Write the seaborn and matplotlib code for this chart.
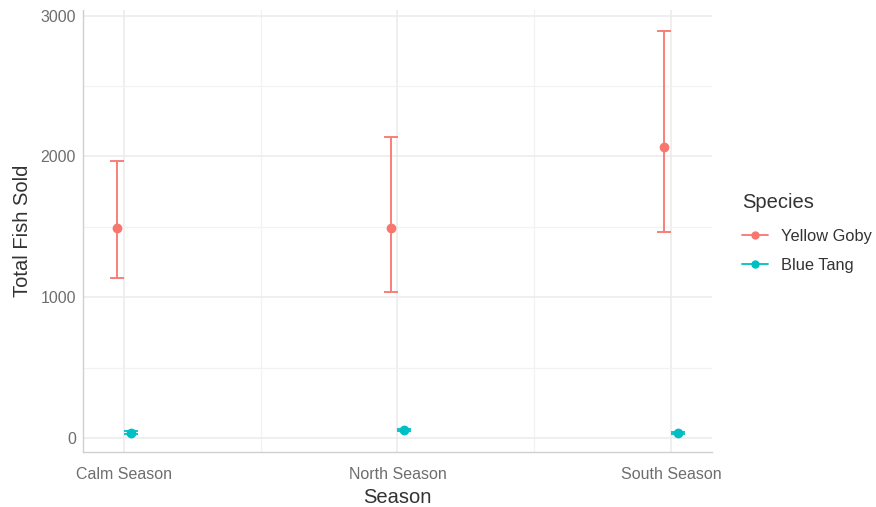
import matplotlib
matplotlib.use("Agg")
import matplotlib.pyplot as plt
from matplotlib.lines import Line2D
from matplotlib.ticker import MultipleLocator
import seaborn as sns
import pandas as pd
import numpy as np

seasons = ["Calm Season", "North Season", "South Season"]
species = ["Yellow Goby", "Blue Tang"]
goby_mean = [1495, 1495, 2065]
goby_low = [1135, 1035, 1460]
goby_high = [1965, 2135, 2890]
tang_mean = [38, 55, 35]
tang_low = [30, 47, 27]
tang_high = [46, 63, 43]

colors = {"Yellow Goby": "#F8766D", "Blue Tang": "#00BFC4"}

df = pd.DataFrame({
    "Season": seasons * 2,
    "Species": [species[0]] * 3 + [species[1]] * 3,
    "Total": goby_mean + tang_mean,
    "low": goby_low + tang_low,
    "high": goby_high + tang_high,
})

sns.set_theme(style="white")
plt.rcParams["font.family"] = ["Liberation Sans", "DejaVu Sans"]

fig = plt.figure(figsize=(8.76, 5.07), dpi=100)
ax = fig.add_axes([0.0947, 0.1085, 0.7181, 0.8715])

dodge = 0.05
sns.pointplot(data=df, x="Season", y="Total", hue="Species", order=seasons,
              hue_order=species, palette=colors, dodge=dodge, errorbar=None,
              linestyle="none", markers="o", markersize=5, ax=ax, legend=False,
              zorder=4)

offsets = {"Yellow Goby": -dodge / 2, "Blue Tang": dodge / 2}
for sp in species:
    sub = df[df["Species"] == sp]
    xs = np.array([seasons.index(s) for s in sub["Season"]]) + offsets[sp]
    yerr = [sub["Total"] - sub["low"], sub["high"] - sub["Total"]]
    ax.errorbar(xs, sub["Total"], yerr=yerr, fmt="none", ecolor=colors[sp],
                elinewidth=1.3, capsize=4.8, capthick=1.3, zorder=3)

ax.set_xlim(-0.15, 2.15)
ax.set_ylim(-100, 3040)
ax.yaxis.set_major_locator(MultipleLocator(1000))
ax.yaxis.set_minor_locator(MultipleLocator(500))
ax.set_xticks([0.5, 1.5], minor=True)
ax.grid(True, which="major", color="#EBEBEB", linewidth=1.1, zorder=0)
ax.grid(True, which="minor", color="#F2F2F2", linewidth=0.9, zorder=0)
ax.set_axisbelow(True)

for side in ["top", "right"]:
    ax.spines[side].set_visible(False)
for side in ["left", "bottom"]:
    ax.spines[side].set_color("#D0D0D0")
    ax.spines[side].set_linewidth(1.0)

ax.tick_params(axis="both", which="both", length=0, labelsize=11.5,
               labelcolor="#6E6E6E")
ax.tick_params(axis="x", pad=11)
ax.tick_params(axis="y", pad=5)
ax.set_xlabel("Season", fontsize=14.5, color="#333333", labelpad=4)
ax.set_ylabel("Total Fish Sold", fontsize=14.5, color="#333333", labelpad=6)

handles = [Line2D([0], [0], color=colors[sp], marker="o", markersize=5,
                  linewidth=1.3) for sp in species]
leg = fig.legend(handles, species, title="Species", loc="center left",
                 bbox_to_anchor=(0.847, 0.54), frameon=False, fontsize=11.8,
                 title_fontsize=14.5, handlelength=1.6, labelspacing=0.85,
                 handletextpad=0.8, borderaxespad=0, borderpad=0)
leg._legend_box.align = "left"
leg._legend_box.sep = 12
leg.get_title().set_color("#333333")
for t in leg.get_texts():
    t.set_color("#333333")

fig.savefig("out.png", dpi=100)
